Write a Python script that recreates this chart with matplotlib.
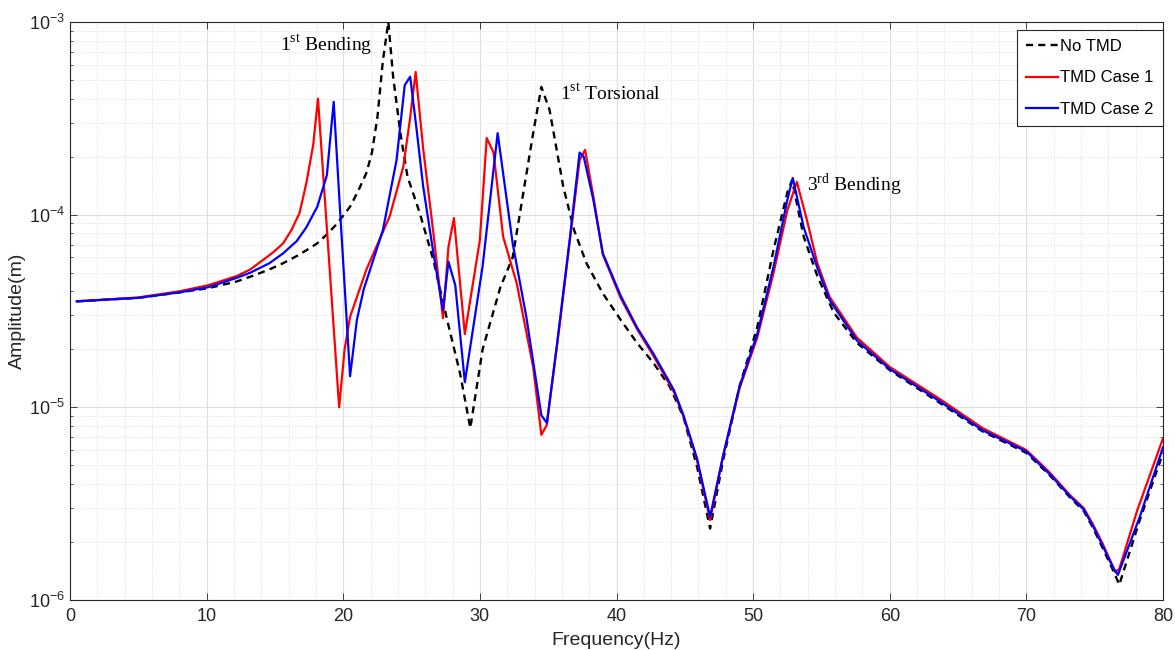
import numpy as np
import matplotlib
matplotlib.use("Agg")
import matplotlib.pyplot as plt
from matplotlib.ticker import MultipleLocator, LogLocator, FuncFormatter, NullFormatter

plt.rcParams['font.family'] = ['Liberation Sans', 'DejaVu Sans']
plt.rcParams['mathtext.fontset'] = 'custom'
plt.rcParams['mathtext.rm'] = 'Liberation Serif'
plt.rcParams['mathtext.sf'] = 'Liberation Sans'

# ---------------- data ----------------
freq_no_tmd = [0.5, 5, 8, 10.1, 12.2, 13.5, 14.6, 15.6, 16.6, 17.4, 18.1, 18.8, 19.5, 20.5, 21.1,
               21.7, 22.1, 22.5, 22.9, 23.3, 23.65, 24.2, 24.7, 25.6, 26.6, 27.6, 28.55, 29.3,
               30.2, 31.5, 32.4, 33.9, 34.5, 35.1, 36.1, 36.9, 37.8, 39.0, 40.3, 41.5, 42.7, 43.9,
               44.9, 45.9, 46.85, 47.8, 49.0, 50.3, 51.5, 52.5, 52.85, 53.7, 54.7, 55.9, 57.6,
               60.0, 63.7, 66.8, 70, 71.7, 73.2, 74.2, 74.9, 75.6, 76.4, 76.8, 78.3, 80]
amp_no_tmd = [3.55e-5, 3.7e-5, 3.95e-5, 4.15e-5, 4.5e-5, 4.85e-5, 5.2e-5, 5.6e-5, 6.1e-5, 6.6e-5,
              7.1e-5, 7.9e-5, 8.9e-5, 1.1e-4, 1.33e-4, 1.65e-4, 2.1e-4, 3.2e-4, 6.3e-4, 1.0e-3,
              5.2e-4, 2.6e-4, 1.58e-4, 1.02e-4, 5.8e-5, 2.85e-5, 1.5e-5, 7.8e-6, 2.0e-5, 4.2e-5,
              6.0e-5, 2.65e-4, 4.6e-4, 3.5e-4, 1.4e-4, 8.3e-5, 5.6e-5, 3.9e-5, 2.85e-5, 2.16e-5,
              1.7e-5, 1.28e-5, 8.9e-6, 4.9e-6, 2.35e-6, 5.3e-6, 1.28e-5, 2.6e-5, 6.6e-5, 1.3e-4,
              1.51e-4, 7.7e-5, 4.8e-5, 3.1e-5, 2.16e-5, 1.56e-5, 1.05e-5, 7.5e-6, 5.8e-6, 4.45e-6,
              3.4e-6, 2.9e-6, 2.35e-6, 1.85e-6, 1.4e-6, 1.2e-6, 2.6e-6, 5.8e-6]

freq_case1 = [0.5, 5, 8, 10.1, 12.2, 13.2, 14.1, 14.9, 15.6, 16.2, 16.8, 17.3, 17.8, 18.15, 19.7,
              20.1, 20.5, 21.7, 23.4, 24.4, 24.9, 25.3, 25.85, 26.6, 27.3, 27.7, 28.1, 28.9, 30.0,
              30.5, 31.0, 31.7, 32.7, 33.9, 34.5, 34.9, 35.9, 36.8, 37.3, 37.7, 38.3, 39.0, 40.3,
              41.5, 42.7, 44.2, 44.9, 45.9, 46.85, 47.8, 49.0, 50.3, 51.5, 52.5, 53.2, 53.95, 54.7,
              55.6, 57.6, 60.0, 63.7, 66.8, 70, 71.7, 73.2, 74.2, 74.9, 75.6, 76.5, 76.8, 78.1, 80]
amp_case1 = [3.55e-5, 3.72e-5, 4.0e-5, 4.3e-5, 4.8e-5, 5.2e-5, 5.8e-5, 6.4e-5, 7.1e-5, 8.3e-5,
             1.02e-4, 1.46e-4, 2.3e-4, 4.0e-4, 1.0e-5, 2.0e-5, 2.95e-5, 5.2e-5, 9.8e-5, 1.78e-4,
             3.2e-4, 5.5e-4, 2.2e-4, 8.0e-5, 2.9e-5, 6.8e-5, 9.6e-5, 2.4e-5, 7.4e-5, 2.5e-4,
             2.1e-4, 7.7e-5, 4.4e-5, 1.62e-5, 7.2e-6, 8.1e-6, 2.9e-5, 9.8e-5, 1.92e-4, 2.17e-4,
             1.25e-4, 6.2e-5, 3.7e-5, 2.55e-5, 1.85e-5, 1.2e-5, 9.0e-6, 5.3e-6, 2.6e-6, 5.6e-6,
             1.25e-5, 2.3e-5, 5.0e-5, 1.05e-4, 1.48e-4, 9.3e-5, 5.6e-5, 3.74e-5, 2.3e-5, 1.62e-5,
             1.1e-5, 7.8e-6, 6.0e-6, 4.6e-6, 3.5e-6, 3.0e-6, 2.45e-6, 1.95e-6, 1.4e-6, 1.45e-6,
             2.9e-6, 6.9e-6]

freq_case2 = [0.5, 5, 8, 10.1, 12.2, 13.2, 14.6, 15.6, 16.6, 17.3, 18.1, 18.8, 19.3, 19.75, 20.5,
              21.0, 21.5, 22.9, 23.9, 24.5, 24.9, 25.4, 25.85, 26.6, 27.3, 27.7, 28.2, 28.9, 30.2,
              31.3, 32.4, 33.4, 34.5, 34.9, 35.6, 36.6, 37.3, 37.6, 38.3, 39.0, 40.3, 41.5, 42.7,
              44.2, 44.9, 45.9, 46.85, 47.8, 49.0, 50.3, 51.5, 52.5, 52.9, 53.7, 54.7, 55.6, 57.6,
              60.0, 63.7, 66.8, 70, 71.7, 73.2, 74.2, 74.9, 75.6, 76.4, 76.7, 78.3, 80]
amp_case2 = [3.55e-5, 3.7e-5, 3.95e-5, 4.2e-5, 4.7e-5, 5.0e-5, 5.6e-5, 6.3e-5, 7.3e-5, 8.6e-5,
             1.1e-4, 1.6e-4, 3.85e-4, 1.1e-4, 1.45e-5, 2.85e-5, 4.1e-5, 8.3e-5, 1.92e-4, 4.7e-4,
             5.2e-4, 2.65e-4, 1.4e-4, 6.3e-5, 3.2e-5, 5.7e-5, 4.3e-5, 1.35e-5, 5.4e-5, 2.65e-4,
             7.1e-5, 2.95e-5, 9.1e-6, 8.3e-6, 2.0e-5, 7.7e-5, 2.1e-4, 2.0e-4, 1.2e-4, 6.3e-5,
             3.8e-5, 2.6e-5, 1.9e-5, 1.23e-5, 9.1e-6, 5.4e-6, 2.7e-6, 5.6e-6, 1.28e-5, 2.4e-5,
             5.4e-5, 1.19e-4, 1.55e-4, 8.6e-5, 5.3e-5, 3.6e-5, 2.22e-5, 1.58e-5, 1.07e-5, 7.6e-6,
             5.9e-6, 4.5e-6, 3.45e-6, 2.95e-6, 2.4e-6, 1.9e-6, 1.45e-6, 1.35e-6, 2.7e-6, 6.2e-6]

labels = ["No TMD", "TMD Case 1", "TMD Case 2"]
mode_labels = [r"1$^{\mathrm{st}}$ Bending", r"1$^{\mathrm{st}}$ Torsional", r"3$^{\mathrm{rd}}$ Bending"]
mode_pos = [(15.4, 7.6e-4), (35.9, 4.3e-4), (53.95, 1.43e-4)]

# ---------------- figure ----------------
fig = plt.figure(figsize=(11.75, 6.5), dpi=100)
ax = fig.add_axes([70/1175, 50/650, 1093/1175, 578/650])

ax.plot(freq_no_tmd, amp_no_tmd, color='black', linestyle=(0, (3, 2.2)), linewidth=1.7, label=labels[0], zorder=3)
ax.plot(freq_case1, amp_case1, color='#ff0000', linewidth=1.6, label=labels[1], zorder=4)
ax.plot(freq_case2, amp_case2, color='#0000ff', linewidth=1.6, label=labels[2], zorder=5)

ax.set_yscale('log')
ax.set_xlim(0, 80)
ax.set_ylim(1e-6, 1e-3)

ax.xaxis.set_major_locator(MultipleLocator(10))
ax.xaxis.set_minor_locator(MultipleLocator(2))
ax.yaxis.set_major_locator(LogLocator(base=10, numticks=10))
ax.yaxis.set_minor_locator(LogLocator(base=10, subs=np.arange(2, 10), numticks=20))
ax.yaxis.set_major_formatter(FuncFormatter(lambda v, p: r'$\mathsf{10^{%d}}$' % int(round(np.log10(v)))))
ax.yaxis.set_minor_formatter(NullFormatter())

txtc = '#262626'
ax.tick_params(which='both', direction='in', top=True, right=True, colors='#262626',
               labelcolor=txtc, labelsize=13)
ax.tick_params(which='major', length=5, width=0.6)
ax.tick_params(which='minor', length=2.5, width=0.5)
ax.tick_params(axis='x', which='minor', length=0)
ax.tick_params(axis='x', which='major', pad=6)

ax.grid(which='major', color='#dedede', linestyle='-', linewidth=0.8)
ax.grid(which='minor', color='#e6e6e6', linestyle=(0, (1.5, 1.5)), linewidth=0.7)
ax.set_axisbelow(True)
for s in ax.spines.values():
    s.set_color('#262626')
    s.set_linewidth(0.8)

ax.set_xlabel('Frequency(Hz)', fontsize=14, color=txtc, labelpad=5)
ax.set_ylabel('Amplitude(m)', fontsize=14, color=txtc, labelpad=2)

for t, (x, y) in zip(mode_labels, mode_pos):
    ax.text(x, y, t, fontsize=14, family='Liberation Serif', color='black', va='center', ha='left', zorder=6)

leg = ax.legend(loc='upper right', bbox_to_anchor=(1.0, 0.987), borderaxespad=0,
                fontsize=12, frameon=True, fancybox=False, handlelength=1.9,
                handletextpad=0.15, labelspacing=1.0, borderpad=0.55)
leg.get_frame().set_edgecolor('#262626')
leg.get_frame().set_linewidth(0.8)
leg.get_frame().set_alpha(1)

fig.savefig('out.png', dpi=100)
